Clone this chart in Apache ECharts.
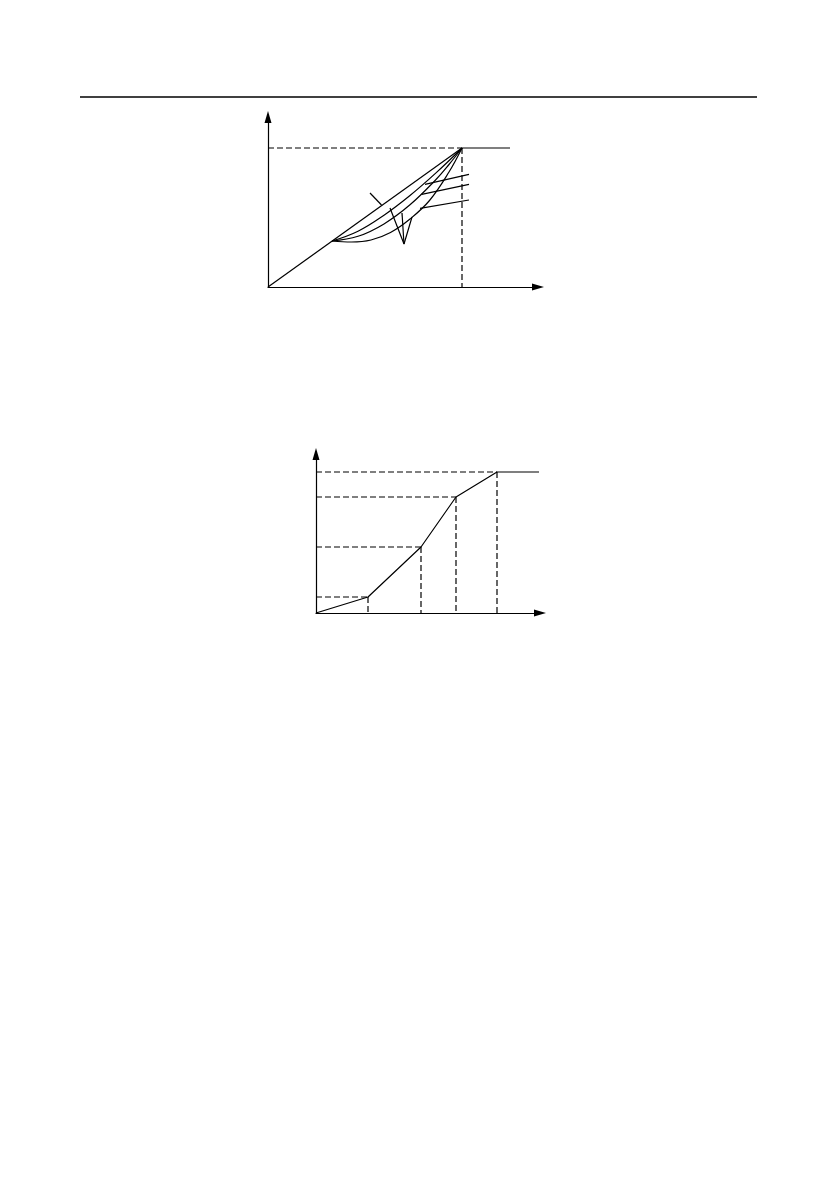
<!DOCTYPE html>
<html>
<head>
<meta charset="utf-8">
<script src="https://cdn.jsdelivr.net/npm/echarts@6/dist/echarts.min.js"></script>
<style>
  html, body { margin: 0; padding: 0; background: #fff; }
  #main { width: 839px; height: 1191px; }
</style>
</head>
<body>
<div id="main"></div>
<script>
// chart 1: V/F line with torque-lowering curves (units = offset from the axes origin)
const vfLinear = [[0, 0], [194, 139]];
const vfFlat = [[194, 139], [242, 139]];
const vfRatedH = [[0, 139], [194, 139]];
const vfRatedV = [[194, 139], [194, 0]];
const vfCurve1 = [[64, 46], [90, 55.8], [116, 71.8], [142, 91.5], [168, 114.1], [194, 139]];
const vfCurve2 = [[64, 46], [90, 50.7], [116, 63.1], [142, 82.2], [168, 107.5], [181, 122.5], [194, 139]];
const vfCurve3 = [[64, 46], [83.5, 45], [103, 47], [122.5, 54.5], [142, 68], [161.5, 86.5], [181, 115], [194, 139]];
const leaderLinear = [[102, 94], [113.5, 82]];
const leaderV = [[122, 79], [136, 43], [144, 70]];
const leaderVMid = [[134, 74], [136, 43]];
const leaderRight1 = [[157, 102.7], [201, 112.7]];
const leaderRight2 = [[153.7, 92.7], [201, 102.7]];
const leaderRight3 = [[152, 78.7], [201, 87]];

// chart 2: multi-point V/F
const multiPoints = [[0, 0], [52, 16], [105, 66], [140, 116], [181, 141]];
const multiFlatEnd = [223, 141];

const chart = echarts.init(document.getElementById('main'));

const solid = { color: '#000', width: 1.2, type: 'solid' };
const dashed = { color: '#000', width: 1.2, type: [6, 3] };

function lineSeries(data, axisIdx, style, smooth) {
  return {
    type: 'line',
    xAxisIndex: axisIdx,
    yAxisIndex: axisIdx,
    data: data,
    symbol: 'none',
    smooth: smooth || false,
    lineStyle: style,
    silent: true
  };
}

function arrowAxis(gridIndex, max) {
  return {
    type: 'value',
    gridIndex: gridIndex,
    min: 0,
    max: max,
    axisLine: {
      show: true,
      onZero: false,
      symbol: ['none', 'triangle'],
      symbolSize: [7, 12],
      lineStyle: { color: '#000', width: 1.2 }
    },
    axisTick: { show: false },
    axisLabel: { show: false },
    splitLine: { show: false }
  };
}

const series = [
  lineSeries(vfRatedH, 0, dashed),
  lineSeries(vfRatedV, 0, dashed),
  lineSeries(vfLinear, 0, solid),
  lineSeries(vfFlat, 0, solid),
  lineSeries(vfCurve1, 0, solid, 0.4),
  lineSeries(vfCurve2, 0, solid, 0.4),
  lineSeries(vfCurve3, 0, solid, 0.4),
  lineSeries(leaderLinear, 0, solid),
  lineSeries(leaderV, 0, solid),
  lineSeries(leaderVMid, 0, solid),
  lineSeries(leaderRight1, 0, solid),
  lineSeries(leaderRight2, 0, solid),
  lineSeries(leaderRight3, 0, solid)
];

// guides for the multi-point curve
multiPoints.slice(1).forEach(p => {
  series.push(lineSeries([[0, p[1]], [p[0], p[1]]], 1, dashed));
  series.push(lineSeries([[p[0], p[1]], [p[0], 0]], 1, dashed));
});
series.push(lineSeries(multiPoints.concat([multiFlatEnd]), 1, solid));

chart.setOption({
  animation: false,
  backgroundColor: '#fff',
  grid: [
    { left: 268, top: 117, width: 270, height: 170 },
    { left: 316, top: 454, width: 224, height: 159 }
  ],
  xAxis: [arrowAxis(0, 270), arrowAxis(1, 224)],
  yAxis: [arrowAxis(0, 170), arrowAxis(1, 159)],
  series: series,
  graphic: [
    {
      type: 'line',
      silent: true,
      shape: { x1: 80, y1: 97, x2: 757, y2: 97 },
      style: { stroke: '#000', lineWidth: 1.3 }
    }
  ]
});
</script>
</body>
</html>
